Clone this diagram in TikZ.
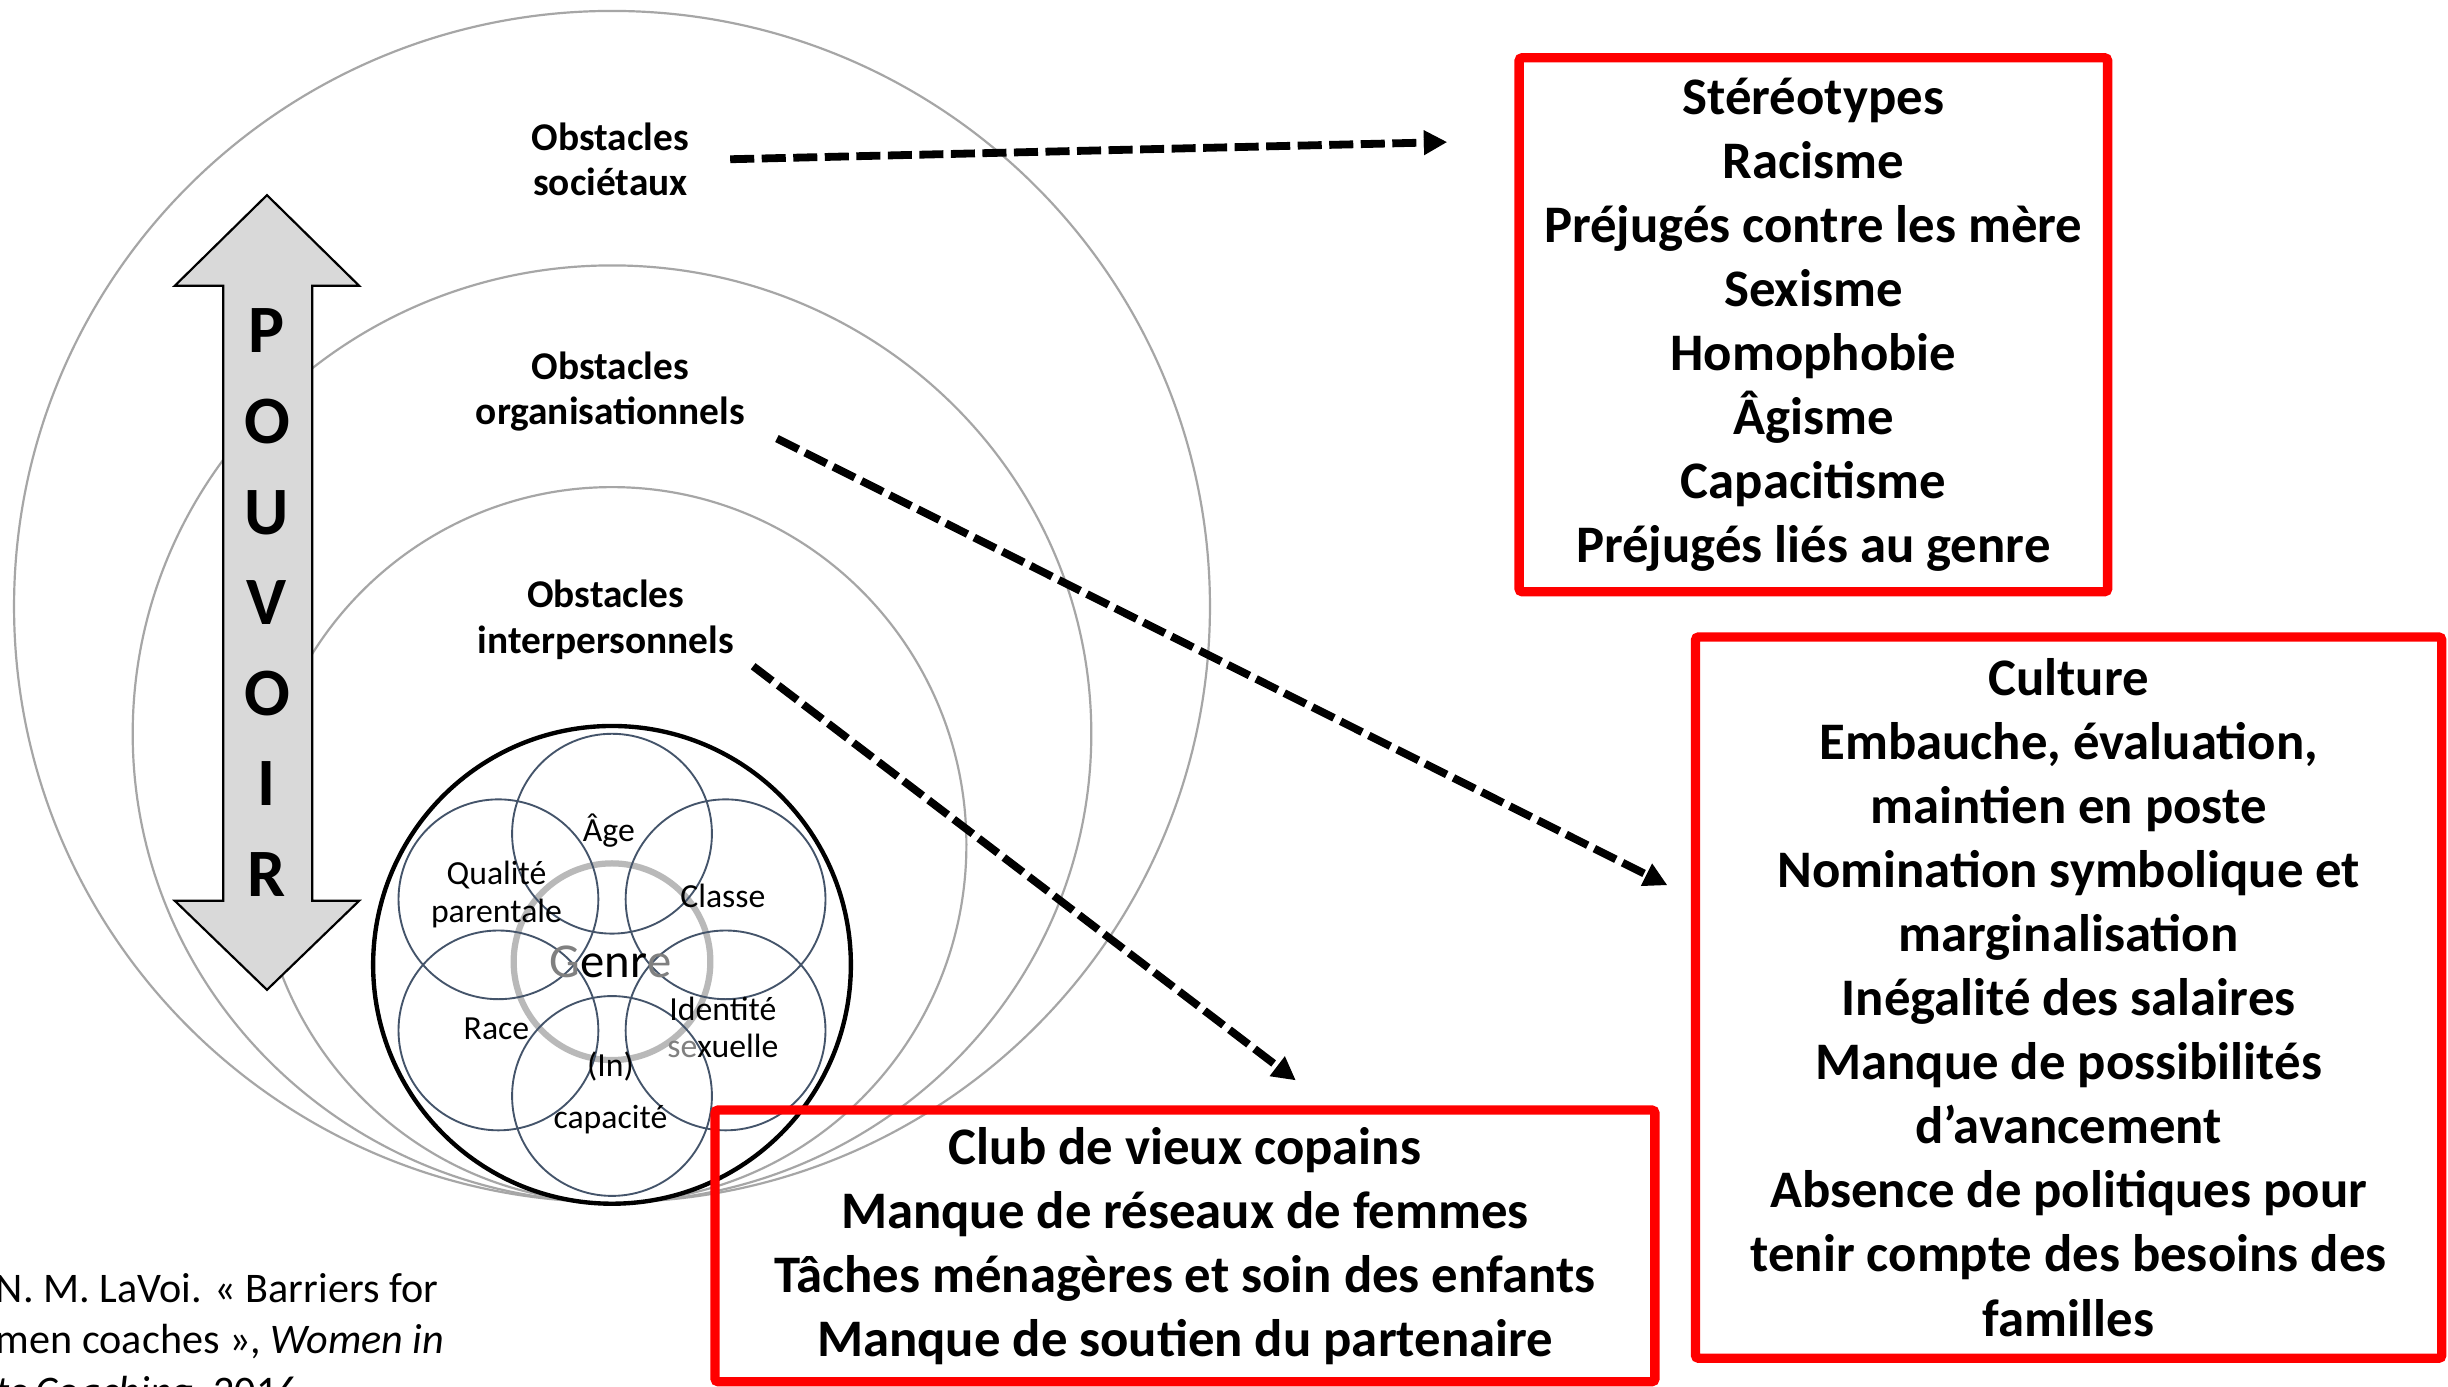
\documentclass[tikz,border=0pt]{standalone}
\usepackage{fontspec}
\setmainfont{Carlito}
\usetikzlibrary{arrows.meta}
\definecolor{layergray}{HTML}{A6A6A6}
\definecolor{petalblue}{HTML}{44546A}
\definecolor{boxred}{HTML}{FF0000}
\definecolor{powerfill}{HTML}{D9D9D9}
\tikzset{
  layer/.style={draw=layergray,line width=0.7pt},
  petal/.style={draw=petalblue,line width=0.6pt},
  obst/.style={font=\bfseries\fontsize{12.6}{14.5}\selectfont,align=center,inner sep=2pt},
  petallabel/.style={font=\fontsize{10.8}{12}\selectfont,align=center,inner sep=0pt},
  listbox/.style={draw=boxred,line width=3pt,rounded corners=1pt,align=center,inner sep=2pt,
    font=\bfseries\fontsize{16.9}{20.5}\selectfont},
  linkarrow/.style={-{Triangle[length=7.5pt,width=7.5pt]},line width=2.5pt,dash pattern=on 7.7pt off 2.4pt}
}

\begin{document}
\begin{tikzpicture}[x=0.5pt,y=-0.5pt]
\useasboundingbox (0,0) rectangle (1568,888);
\clip (0,0) rectangle (1568,888);
\fill[white] (0,0) rectangle (1568,888);
% nested layers
\draw[layer] (392,388.5) ellipse (383 and 381.5);
\draw[layer] (392,470) ellipse (307 and 300);
\draw[layer] (392,541) ellipse (227 and 229);
% power arrow
\draw[fill=powerfill,line width=0.7pt] (171,125) -- (230,183) -- (200,183) -- (200,577)
  -- (230,577) -- (171,634) -- (112,577) -- (143,577) -- (143,183) -- (112,183) -- cycle;
\node[font=\bfseries\fontsize{21.7}{29}\selectfont,align=center,inner sep=0pt] (pouvoir) at (171,386)
  {P\\O\\U\\V\\O\\I\\R};
% layer labels
\node[obst] (soc) at (391,102) {Obstacles\\sociétaux};
\node[obst] (org) at (391,251) {Obstacles\\organisationnels};
\node[obst] (inter) at (388,397) {Obstacles\\interpersonnels};
% core
\draw[fill=white,line width=1.4pt] (392,618) circle (153);
\draw[draw=gray!55,line width=2pt] (392,616) circle (63);
\foreach \a in {90,30,-30,-90,-150,150}
  \draw[petal,shift={(392,618)}] (\a:84) circle (64);
\node[petallabel] (age) at (390,532) {Âge};
\node[petallabel] (qualite) at (318,573) {Qualité\\parentale};
\node[petallabel] (classe) at (463,574) {Classe};
\node[font=\fontsize{15.6}{18}\selectfont,inner sep=0pt] (genre) at (391,616)
  {{\color{gray}G}enr{\color{gray}e}};
\node[petallabel] (identite) at (463,658) {Identité\\{\color{gray}se}xuelle};
\node[petallabel] (race) at (318,659) {Race};
\node[petallabel] (capacite) at (391,700) {(In)\\[4.5pt]capacité};
% lists
\node[listbox,minimum width=188.5pt,minimum height=171pt] (societal) at (1161.5,208)
  {Stéréotypes\\Racisme\\Préjugés contre les mère\\Sexisme\\Homophobie\\Âgisme\\Capacitisme\\Préjugés liés au genre};
\node[listbox,minimum width=239pt,minimum height=231pt] (organisational) at (1325,639)
  {Culture\\Embauche, évaluation,\\maintien en poste\\Nomination symbolique et\\marginalisation\\Inégalité des salaires\\Manque de possibilités\\d’avancement\\Absence de politiques pour\\tenir compte des besoins des\\familles};
\node[listbox,minimum width=301pt,minimum height=87pt] (interpersonal) at (759,798)
  {Club de vieux copains\\Manque de réseaux de femmes\\Tâches ménagères et soin des enfants\\Manque de soutien du partenaire};
% links
\coordinate (socend) at (927,91);
\coordinate (orgend) at (1068,567);
\coordinate (interend) at (830,692);
\draw[linkarrow] ([xshift=11pt]soc.east) -- (socend);
\draw[linkarrow] ([xshift=8pt]org.south east) -- (orgend);
\draw[linkarrow] ([xshift=4pt]inter.south east) -- (interend);
% source
\node[anchor=base west,align=left,inner sep=0pt,font=\fontsize{13.5}{16.5}\selectfont] (source) at (-3,900)
  {N. M. LaVoi. « Barriers for\\men coaches », \textit{Women in}\\\textit{ts Coaching}, 2016};
\end{tikzpicture}
\end{document}
